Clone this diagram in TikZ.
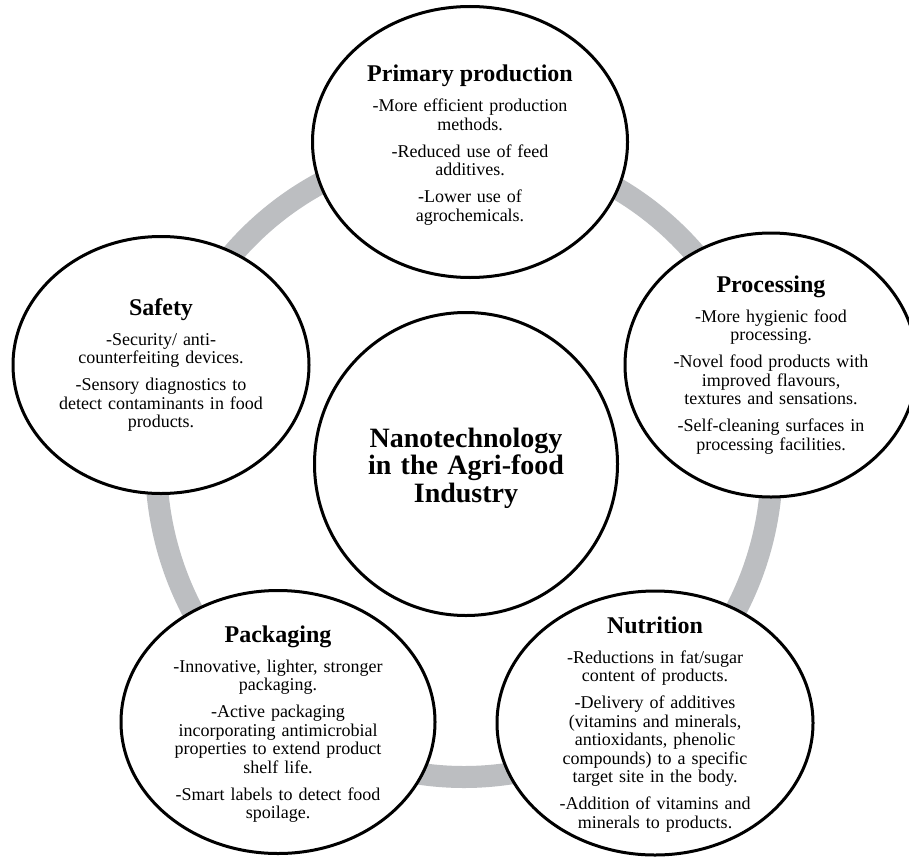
\documentclass[tikz,border=0pt]{standalone}
\usepackage{fontspec}
\setmainfont{Liberation Serif}
\usetikzlibrary{shapes.geometric}

\definecolor{ringgrey}{RGB}{188,190,193}

% heading of a bubble, followed by the gap before the first item
\newcommand\bubbletitle[1]{{\fontsize{24}{24}\selectfont\bfseries #1\par}\vspace{11.5pt}}
% gap between two items of a bubble
\newcommand\pointgap{\par\vspace{8.5pt}}

\tikzset{
  bubble/.style={ellipse, draw=black, line width=3pt, fill=white, inner sep=0pt},
  bubbletext/.style={text width=330pt, align=center, inner sep=0pt,
    font=\fontsize{18}{18.5}\selectfont},
  ring/.style={draw=ringgrey, line width=22pt}
}

\begin{document}
\begin{tikzpicture}[x=1pt,y=-1pt]
\useasboundingbox (0,0) rectangle (909,856);
\clip (0,0) rectangle (909,856);
\fill[white] (0,0) rectangle (909,856);

% grey ring linking the outer bubbles
\draw[ring] (464,462) ellipse [x radius=308, y radius=315];

% outer bubbles
\node[bubble, minimum width=315pt, minimum height=271pt] (prim) at (470,142) {};
\node[bubble, minimum width=292pt, minimum height=264pt] (proc) at (771,365) {};
\node[bubble, minimum width=316pt, minimum height=264pt] (nutr) at (655,723) {};
\node[bubble, minimum width=314pt, minimum height=263pt] (pack) at (278,722) {};
\node[bubble, minimum width=296pt, minimum height=257pt] (safe) at (161,365) {};

% central bubble
\node[bubble, circle, minimum size=303pt] (core) at (466,464) {};

% texts
\node[bubbletext, yshift=-3pt] (prim-t) at (prim.center) {%
  \bubbletitle{Primary production}
  -More efficient production\\ methods.\pointgap
  -Reduced use of feed\\ additives.\pointgap
  -Lower use of\\ agrochemicals.};

\node[bubbletext] (proc-t) at (proc.center) {%
  \bubbletitle{Processing}
  -More hygienic food\\ processing.\pointgap
  -Novel food products with\\ improved flavours,\\ textures and sensations.\pointgap
  -Self-cleaning surfaces in\\ processing facilities.};

\node[bubbletext, yshift=-1.5pt] (nutr-t) at (nutr.center) {%
  \bubbletitle{Nutrition}
  -Reductions in fat/sugar\\ content of products.\pointgap
  -Delivery of additives\\ (vitamins and minerals,\\ antioxidants, phenolic\\ compounds) to a specific\\ target site in the body.\pointgap
  -Addition of vitamins and\\ minerals to products.};

\node[bubbletext, yshift=-2pt] (pack-t) at (pack.center) {%
  \bubbletitle{Packaging}
  -Innovative, lighter, stronger\\ packaging.\pointgap
  -Active packaging\\ incorporating antimicrobial\\ properties to extend product\\ shelf life.\pointgap
  -Smart labels to detect food\\ spoilage.};

\node[bubbletext] (safe-t) at (safe.center) {%
  \bubbletitle{Safety}
  -Security/ anti-\\ counterfeiting devices.\pointgap
  -Sensory diagnostics to\\ detect contaminants in food\\ products.};

\node[bubbletext, yshift=-4pt, font=\fontsize{28}{27.5}\selectfont\bfseries] (core-t) at (core.center) {%
  Nanotechnology\\ in the Agri-food\\ Industry};
\end{tikzpicture}
\end{document}
